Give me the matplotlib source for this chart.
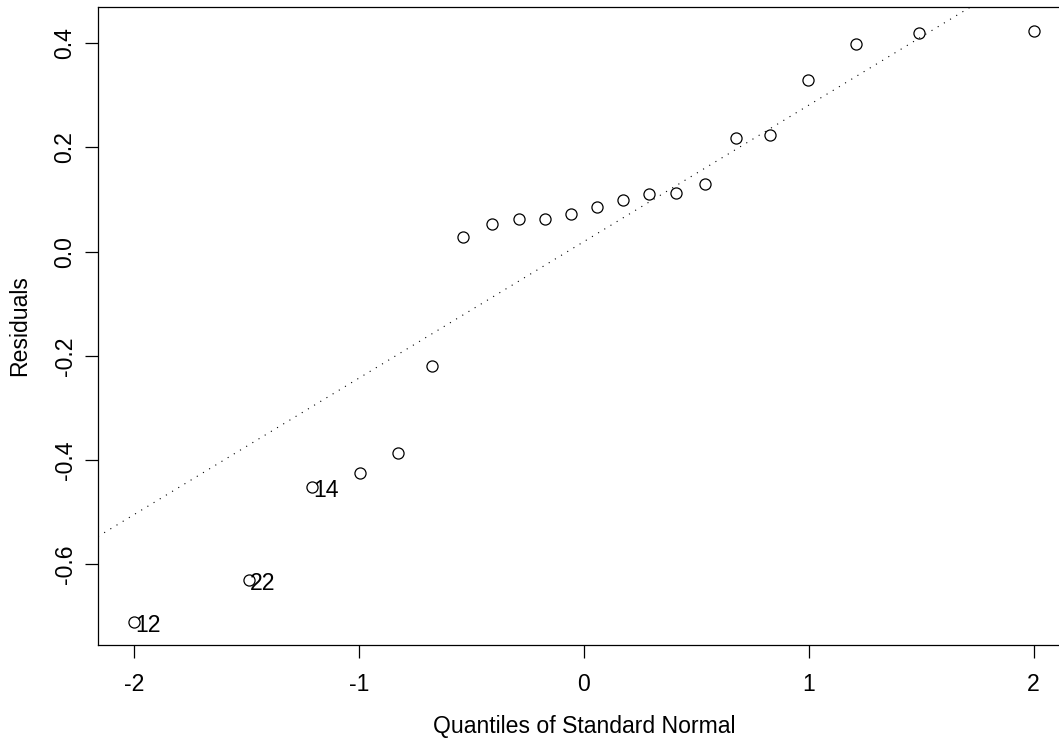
import numpy as np
import matplotlib
matplotlib.use("Agg")
import matplotlib.pyplot as plt

# normal quantiles (x) and sorted residuals (y)
quantiles = [-2.000, -1.489, -1.208, -0.998, -0.826, -0.674, -0.537, -0.410,
             -0.289, -0.172, -0.057, 0.057, 0.172, 0.289, 0.410, 0.537,
             0.674, 0.826, 0.998, 1.208, 1.489, 2.000]
residuals = [-0.711, -0.630, -0.451, -0.425, -0.387, -0.219, 0.029, 0.053,
             0.063, 0.063, 0.073, 0.086, 0.099, 0.111, 0.112, 0.130,
             0.218, 0.224, 0.330, 0.399, 0.420, 0.424]

# labelled outliers: index into the sorted arrays, observation number
outlier_idx = [0, 1, 2]
outlier_lbl = ["12", "22", "14"]

xticks = [-2, -1, 0, 1, 2]
yticks = [-0.6, -0.4, -0.2, 0.0, 0.2, 0.4]


def main():
    plt.rcParams['font.family'] = ['Liberation Sans', 'DejaVu Sans']
    plt.rcParams['axes.unicode_minus'] = False
    fs = 16.6

    fig = plt.figure(figsize=(10.59, 7.42), dpi=100)
    # the box runs past the right edge of the picture, as in the original
    ax = fig.add_axes([98 / 1059, 1 - 645.3 / 742, 972 / 1059, 638.6 / 742])

    ax.plot(quantiles, residuals, linestyle='none', marker='o', markersize=8,
            markerfacecolor='none', markeredgecolor='black', markeredgewidth=0.9)

    # qqline through the quartiles
    q = np.array([0.25, 0.75])
    yq = np.quantile(residuals, q)
    xq = np.array([-0.6745, 0.6745])
    slope = (yq[1] - yq[0]) / (xq[1] - xq[0])
    icpt = yq[0] - slope * xq[0]
    ax.axline((0, icpt), slope=slope, color='black', linewidth=0.8,
              linestyle=(0, (1, 5.5)))

    for i, lbl in zip(outlier_idx, outlier_lbl):
        ax.annotate(lbl, (quantiles[i], residuals[i]), xytext=(0.5, -2.5),
                    textcoords='offset points', ha='left', va='center',
                    fontsize=fs)

    ax.set_xlim(-2.162, 2.162)
    ax.set_ylim(-0.755, 0.470)
    ax.set_xticks(xticks)
    ax.set_xticklabels([str(t) for t in xticks])
    ax.set_yticks(yticks)
    ax.set_yticklabels([f"{t:.1f}" for t in yticks], rotation=90, va='center')

    ax.tick_params(axis='both', direction='out', length=9.4, width=0.9,
                   labelsize=fs, color='black')
    ax.tick_params(axis='x', pad=10.5)
    ax.tick_params(axis='y', pad=6)
    for s in ax.spines.values():
        s.set_linewidth(0.9)

    ax.set_xlabel("Quantiles of Standard Normal", fontsize=fs)
    ax.xaxis.set_label_coords(0.5, (645.3 - 727) / 638.6)
    ax.xaxis.label.set_va('center')
    ax.set_ylabel("Residuals", fontsize=fs)
    ax.yaxis.set_label_coords((19.5 - 98) / 972, 0.5)
    ax.yaxis.label.set_va('center')

    fig.savefig("out.png", dpi=100)


if __name__ == "__main__":
    main()
